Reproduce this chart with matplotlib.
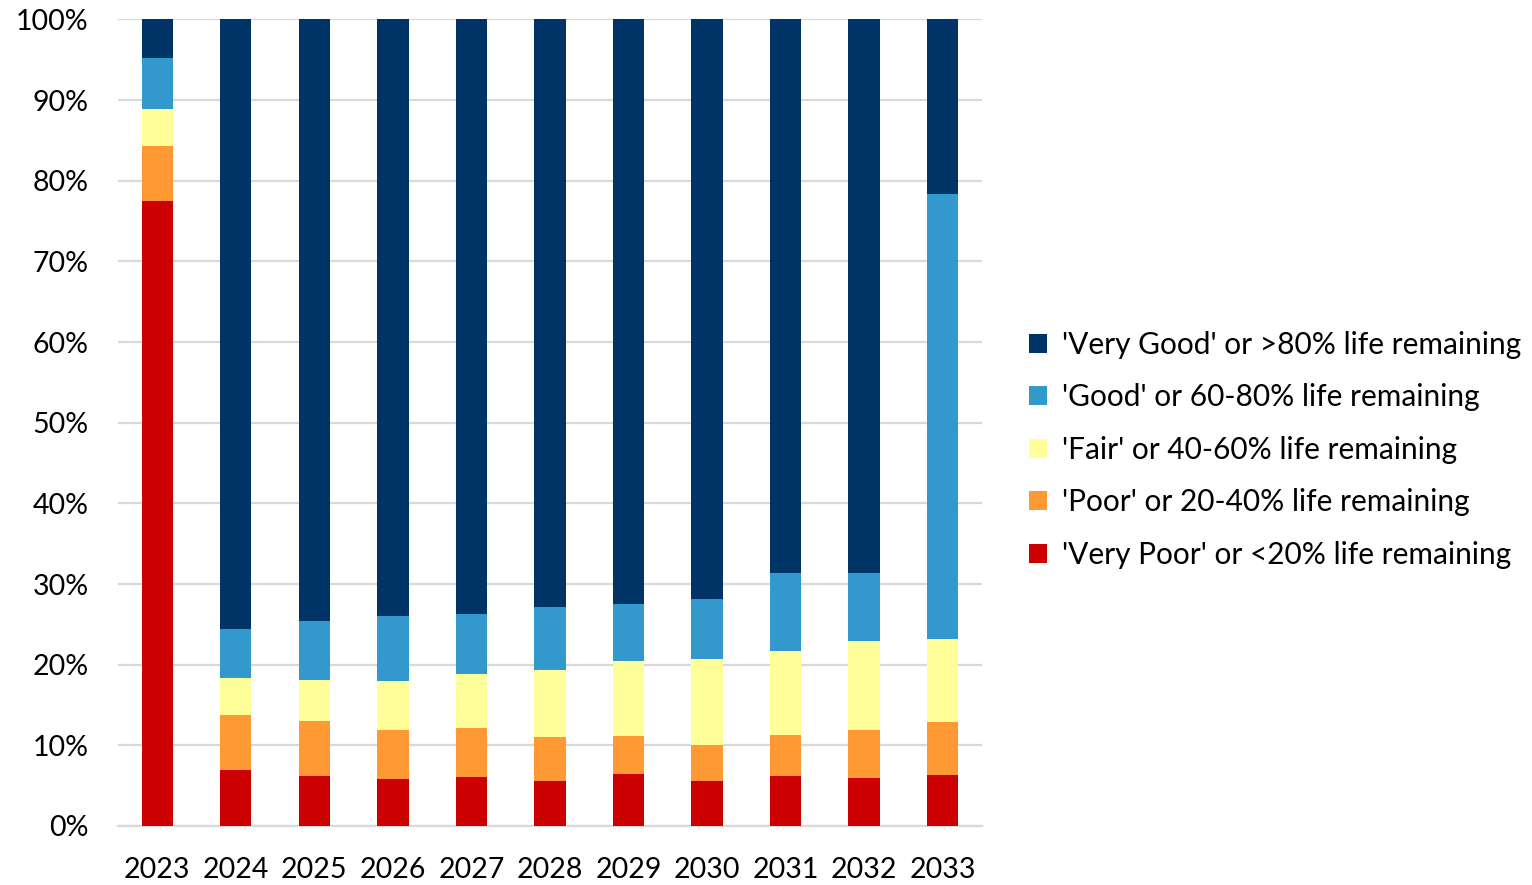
import matplotlib

matplotlib.use("Agg")
import matplotlib.pyplot as plt
import numpy as np

plt.rcParams["font.family"] = ["Lato", "DejaVu Sans"]

YEARS = ["2023", "2024", "2025", "2026", "2027", "2028", "2029", "2030", "2031", "2032", "2033"]

# share of assets in each condition band (%), per year
VERY_POOR = [77.5, 6.9, 6.2, 5.8, 6.1, 5.6, 6.45, 5.6, 6.2, 5.95, 6.3]
POOR = [6.8, 6.8, 6.85, 6.1, 6.0, 5.4, 4.65, 4.5, 5.05, 5.9, 6.6]
FAIR = [4.6, 4.65, 5.1, 6.1, 6.75, 8.4, 9.4, 10.55, 10.4, 11.05, 10.25]
GOOD = [6.3, 6.1, 7.3, 8.0, 7.45, 7.7, 7.05, 7.5, 9.75, 8.5, 55.25]
VERY_GOOD = [4.8, 75.55, 74.55, 74.0, 73.7, 72.9, 72.45, 71.85, 68.6, 68.6, 21.6]

SERIES = [
    ("'Very Poor' or <20% life remaining", VERY_POOR, "#CC0000"),
    ("'Poor' or 20-40% life remaining", POOR, "#FF9933"),
    ("'Fair' or 40-60% life remaining", FAIR, "#FFFF99"),
    ("'Good' or 60-80% life remaining", GOOD, "#3399CC"),
    ("'Very Good' or >80% life remaining", VERY_GOOD, "#003366"),
]


def main():
    fig = plt.figure(figsize=(15.32, 8.85), dpi=100)
    ax = fig.add_axes([0.077, 0.0667, 0.564, 0.9113])

    x = np.arange(len(YEARS))
    bottom = np.zeros(len(YEARS))
    handles = []
    for label, vals, color in SERIES:
        vals = np.array(vals)
        b = ax.bar(x, vals, width=0.4, bottom=bottom, color=color, label=label, zorder=3)
        handles.append(b)
        bottom += vals

    ax.set_xlim(-0.5, len(YEARS) - 0.5)
    ax.set_ylim(0, 100)
    ax.set_yticks(range(0, 101, 10))
    ax.set_yticklabels([f"{v}%" for v in range(0, 101, 10)])
    ax.set_xticks(x)
    ax.set_xticklabels(YEARS)
    ax.tick_params(axis="both", length=0, labelsize=20.5, colors="#000000")
    ax.tick_params(axis="y", pad=21)
    ax.tick_params(axis="x", pad=22)
    ax.grid(axis="y", color="#D9D9D9", linewidth=1.6, zorder=0)
    for side in ("top", "right", "left"):
        ax.spines[side].set_visible(False)
    ax.spines["bottom"].set_color("#D9D9D9")
    ax.spines["bottom"].set_linewidth(1.6)

    fig.legend(
        handles[::-1],
        [s[0] for s in SERIES][::-1],
        loc="center left",
        bbox_to_anchor=(0.664, 0.492),
        borderaxespad=0,
        frameon=False,
        fontsize=21.5,
        handlelength=0.6,
        handleheight=0.6,
        handletextpad=0.5,
        labelspacing=0.82,
    )

    fig.savefig("out.png", dpi=100)
    plt.close(fig)


if __name__ == "__main__":
    main()
